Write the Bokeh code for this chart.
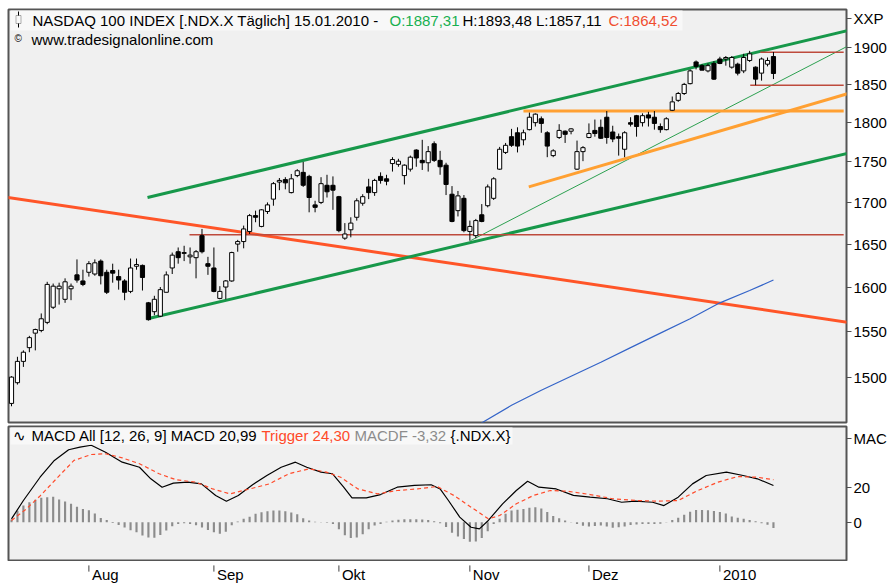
from bokeh.plotting import figure
from bokeh.layouts import column
from bokeh.models import Range1d, FixedTicker, BasicTickFormatter, Label, BoxAnnotation, ColumnDataSource
from bokeh.embed import file_html
from bokeh.resources import INLINE
from bokeh.core.properties import value

# ---------------- data ----------------
opens = [1472, 1494, 1517, 1532, 1548, 1551, 1560, 1577, 1598, 1586,
         1598, 1614, 1607, 1617, 1615, 1630, 1617, 1619, 1612, 1607,
         1595, 1624, 1625, 1582, 1572, 1567, 1594, 1622, 1641, 1639,
         1635, 1634, 1660, 1627, 1622, 1587, 1600, 1607, 1650, 1653,
         1665, 1684, 1671, 1689, 1704, 1725, 1728, 1712, 1733, 1737,
         1732, 1697, 1700, 1721, 1721, 1707, 1657, 1667, 1682, 1699,
         1719, 1712, 1732, 1729, 1748, 1747, 1733, 1741, 1765, 1752,
         1749, 1773, 1752, 1746, 1710, 1690, 1705, 1665, 1660, 1685,
         1696, 1705, 1741, 1762, 1782, 1787, 1778, 1791, 1800, 1805,
         1787, 1758, 1781, 1789, 1789, 1741, 1763, 1781, 1790, 1794,
         1807, 1788, 1782, 1766, 1800, 1809, 1800, 1810, 1807, 1795,
         1791, 1816, 1829, 1838, 1851, 1880, 1875, 1868, 1878, 1884,
         1884, 1873, 1877, 1868, 1882, 1873, 1865, 1877, 1887.31]
highs = [1501, 1522, 1529, 1545, 1553, 1570, 1606, 1604, 1605, 1610,
         1604, 1632, 1620, 1630, 1632, 1632, 1620, 1627, 1620, 1609,
         1633, 1633, 1626, 1583, 1590, 1600, 1618, 1640, 1646, 1648,
         1646, 1643, 1668, 1635, 1646, 1601, 1608, 1641, 1655, 1672,
         1686, 1690, 1692, 1700, 1725, 1730, 1731, 1735, 1741, 1750,
         1734, 1702, 1731, 1734, 1732, 1708, 1675, 1682, 1705, 1710,
         1729, 1729, 1737, 1734, 1756, 1754, 1747, 1758, 1766, 1778,
         1770, 1776, 1764, 1749, 1720, 1714, 1709, 1678, 1680, 1698,
         1722, 1731, 1769, 1774, 1792, 1794, 1791, 1813, 1812, 1808,
         1789, 1766, 1798, 1790, 1793, 1777, 1770, 1799, 1804, 1804,
         1815, 1796, 1786, 1789, 1807, 1810, 1812, 1814, 1815, 1799,
         1807, 1834, 1840, 1852, 1870, 1882, 1877, 1878, 1881, 1887,
         1888, 1888, 1879, 1891, 1895, 1874, 1886, 1886, 1893.48]
lows = [1469, 1492, 1511, 1527, 1529, 1549, 1558, 1575, 1580, 1582,
        1585, 1605, 1601, 1612, 1613, 1603, 1592, 1605, 1597, 1585,
        1593, 1620, 1596, 1562, 1568, 1566, 1594, 1615, 1627, 1630,
        1627, 1610, 1639, 1614, 1594, 1586, 1586, 1606, 1641, 1645,
        1662, 1676, 1670, 1686, 1696, 1715, 1716, 1711, 1731, 1719,
        1688, 1688, 1698, 1706, 1691, 1664, 1655, 1658, 1678, 1696,
        1704, 1708, 1723, 1721, 1738, 1744, 1722, 1738, 1744, 1740,
        1738, 1750, 1734, 1709, 1676, 1683, 1664, 1654, 1657, 1676,
        1694, 1703, 1740, 1760, 1769, 1762, 1771, 1790, 1795, 1787,
        1756, 1756, 1779, 1774, 1785, 1740, 1751, 1780, 1782, 1779,
        1773, 1775, 1758, 1756, 1795, 1782, 1795, 1795, 1791, 1787,
        1790, 1815, 1827, 1836, 1850, 1870, 1869, 1866, 1856, 1877,
        1875, 1871, 1862, 1865, 1880, 1849, 1855, 1874, 1857.11]
closes = [1500, 1517, 1527, 1543, 1552, 1564, 1603, 1601, 1601, 1606,
          1601, 1608, 1603, 1627, 1628, 1613, 1594, 1616, 1608, 1594,
          1622, 1626, 1611, 1563, 1586, 1597, 1614, 1637, 1634, 1640,
          1637, 1641, 1641, 1624, 1595, 1595, 1607, 1640, 1653, 1668,
          1684, 1682, 1691, 1697, 1723, 1727, 1724, 1729, 1739, 1721,
          1706, 1694, 1723, 1713, 1715, 1666, 1662, 1675, 1702, 1707,
          1712, 1727, 1727, 1726, 1753, 1751, 1746, 1756, 1755, 1749,
          1763, 1752, 1744, 1722, 1677, 1708, 1666, 1671, 1678, 1677,
          1719, 1729, 1766, 1771, 1771, 1770, 1787, 1807, 1811, 1799,
          1770, 1764, 1790, 1785, 1792, 1763, 1768, 1786, 1786, 1780,
          1781, 1779, 1780, 1787, 1798, 1795, 1809, 1806, 1799, 1791,
          1805, 1827, 1838, 1850, 1868, 1874, 1869, 1875, 1857, 1878,
          1886, 1886, 1865, 1886, 1891, 1857, 1884, 1882, 1864.52]

# moving average (blue)
sma_x = [78, 84, 89, 94, 99, 104, 109, 114, 119, 124, 128]
sma_v = [1448, 1470, 1486, 1501, 1516, 1532, 1548, 1564, 1582, 1596, 1608]

# drawn trend lines: (x index pairs, value pairs)
upper_ch_x = [22.85, 140.6]
upper_ch_v = [1706, 1923]
lower_ch_x = [22.85, 140.6]
lower_ch_v = [1564, 1761]
thin_green_x = [77.1, 140.6]
thin_green_v = [1654, 1902]
red_down_x = [-0.6, 140.6]
red_down_v = [1706, 1560]
orange_up_x = [86.9, 140.6]
orange_up_v = [1719, 1838]
hline_levels = [1661, 1815, 1893, 1849]
hline_start = [29.9, 86.0, 125.8, 124.1]
hline_end = [139.8, 139.8, 139.8, 139.8]

# MACD
macd_x = [0, 2, 4.8, 7.2, 9.6, 11.5, 13.4, 15.8, 18.6, 21.5, 23.4, 25.3, 27.2, 29.6, 31.9,
          34.3, 36.1, 38.1, 40.5, 42.9, 45.3, 47.7, 49.6, 52, 53.9, 55.8, 57.2, 59.6, 62,
          64.8, 67.7, 70.5, 72, 73.4, 75.3, 77.2, 78.6, 80.1, 82.5, 84.8, 86.7, 88.6, 91.5,
          94.4, 97.2, 100.1, 102.5, 104.8, 107.7, 109.6, 112, 114.4, 116.7, 120.1, 122.9,
          125.3, 128]
macd_v = [1.9, 12.4, 25.7, 35.3, 41.4, 42.9, 44.0, 40.0, 34.3, 31.4, 24.8, 20.0, 22.3, 22.9, 21.9,
          15.3, 12.0, 15.3, 21.4, 26.7, 31.4, 34.3, 31.4, 28.6, 27.7, 20.0, 13.9, 13.9, 15.8,
          20.0, 21.0, 21.4, 19.0, 12.4, 2.9, -2.9, -3.8, 1.0, 10.5, 18.1, 23.4, 20.0, 19.0,
          15.3, 14.3, 13.4, 11.4, 12.0, 11.4, 9.5, 14.3, 21.9, 26.7, 28.6, 26.7,
          24.8, 20.99]
trig_x = [0, 2.5, 4.8, 7.7, 10.5, 13.4, 15.8, 18.6, 21.5, 24.8, 27.7, 31, 33.8, 36.7, 40,
          43.3, 46.6, 50, 52.9, 55.3, 58.2, 61.5, 64.8, 68.2, 71.5, 74.3, 77.2, 80.1, 82,
          84.8, 87.7, 90.5, 93.4, 97.2, 101, 104.8, 108.6, 112, 115.3, 118.7, 122, 125.3, 128]
trig_v = [1.0, 7.6, 15.0, 25.4, 35.3, 38.7, 39.1, 36.8, 33.4, 27.7, 24.2, 22.9, 19.0, 16.2, 19.0,
          21.9, 27.7, 30.5, 28.6, 25.7, 19.0, 16.2, 18.1, 19.0, 20.4, 15.3, 8.6, 1.9, 3.8,
          10.5, 15.3, 18.1, 17.7, 15.8, 13.4, 12.4, 12.0, 12.4, 18.1, 22.9, 26.1, 25.7, 24.30]
macdf = [1.5, 6.5, 9.5, 11.4, 12.8, 13.9, 14.3, 14.6, 13.0, 11.8,
         10.5, 8.8, 7.6, 6.8, 5.0, 2.4, 1.2, -0.4, -1.6, -3.0,
         -4.6, -5.7, -7.6, -8.7, -8.9, -7.3, -4.8, -2.3, -1.1, -0.6,
         -1.1, -1.8, -3.0, -4.4, -5.8, -6.6, -5.5, -1.8, 0.4, 1.9,
         3.1, 4.8, 5.7, 6.3, 6.7, 6.7, 6.2, 5.6, 4.6, 2.3,
         1.0, 0.2, -0.2, -0.3, -1.0, -4.0, -7.4, -9.0, -8.7, -6.9,
         -4.0, -1.9, -1.0, 0.2, 1.0, 1.4, 1.7, 1.7, 1.7, 1.6,
         1.2, 0.6, -0.6, -2.8, -6.0, -8.2, -9.6, -11.2, -11.0, -9.0,
         -5.2, -1.0, 1.9, 4.8, 6.7, 7.1, 7.6, 8.3, 8.6, 7.8,
         5.8, 3.6, 2.2, 1.0, -0.2, -1.1, -2.0, -2.5, -2.2, -1.9,
         -2.4, -3.2, -2.9, -2.4, -1.6, -1.3, -1.0, -1.0, -1.0, -0.9,
         -0.2, 1.2, 2.5, 4.2, 6.0, 6.9, 7.0, 6.8, 6.4, 5.8,
         4.9, 3.2, 2.5, 1.9, 1.2, 0.6, -0.6, -1.4, -3.32]

price_ticks = [1500, 1550, 1600, 1650, 1700, 1750, 1800, 1850, 1900]
macd_ticks = [0, 20]
month_pos = [13, 34, 55, 77, 97, 119]
month_labels = ["Aug", "Sep", "Okt", "Nov", "Dez", "2010"]
# axis captions shown at the top of each value axis
price_caption = ("XXP", 1939)
macd_caption = ("MAC", 48)

# ---------------- styling ----------------
FONT = "Liberation Sans"
FS = "15px"
W = 889
RB = 43          # right border (axis area)
LB = 8           # left border
BG = "#f0f0f0"
OUT = "#555555"
GREEN = "#17984a"
RED = "#ff5528"
ORANGE = "#ffa032"
DARKRED = "#be4a3c"
BLUE = "#3464c8"
STRIP = "#f8f8f8"

n = len(closes)
idx = list(range(n))
src = ColumnDataSource(dict(
    x=idx, o=opens, h=highs, l=lows, c=closes,
    top=[max(o, c) for o, c in zip(opens, closes)],
    bot=[min(o, c) for o, c in zip(opens, closes)],
    fill=["#ffffff" if c >= o else "#000000" for o, c in zip(opens, closes)],
))

x_range = Range1d(-0.504, 140.27)


def style_right_axis(fig, ticks, caption):
    ax = fig.yaxis[0]
    ax.ticker = FixedTicker(ticks=ticks + [caption[1]])
    ax.formatter = BasicTickFormatter(use_scientific=False)
    ax.major_label_overrides = {caption[1]: caption[0]}
    ax.axis_line_color = None
    ax.major_tick_in = 0
    ax.major_tick_out = 5
    ax.major_tick_line_color = "#505050"
    ax.minor_tick_line_color = None
    ax.major_label_standoff = 2
    ax.major_label_text_font = FONT
    ax.major_label_text_font_size = FS
    ax.major_label_text_color = "#000000"


def screen_label(fig, txt, x, y, color="#000000", size=FS):
    fig.add_layout(Label(x=x, y=y, x_units="screen", y_units="screen", text=txt,
                         text_font=FONT, text_font_size=size, text_color=color,
                         text_baseline="middle", text_align="left"))


def screen_box(fig, l, r, b, t, fill, line=None):
    fig.add_layout(BoxAnnotation(left=l, right=r, bottom=b, top=t,
                                 left_units="screen", right_units="screen",
                                 top_units="screen", bottom_units="screen",
                                 fill_color=fill, fill_alpha=1,
                                 line_color=line, line_width=1))


# ---------------- main price panel ----------------
p = figure(width=W, height=424, x_range=x_range, y_range=Range1d(1452, 1952),
           y_axis_type="log", x_axis_location=None, y_axis_location="right",
           output_backend="svg", toolbar_location=None,
           min_border_left=LB, min_border_right=RB, min_border_top=9, min_border_bottom=2,
           background_fill_color=BG, border_fill_color="#ffffff",
           outline_line_color=OUT, outline_line_width=2)
p.grid.visible = False
style_right_axis(p, price_ticks, price_caption)

# header strip (frame-relative screen units, y up from frame bottom)
screen_box(p, 2, 674, 392, 412, STRIP)

# trend lines
p.line(red_down_x, red_down_v, line_color=RED, line_width=3)
p.line(upper_ch_x, upper_ch_v, line_color=GREEN, line_width=3)
p.line(lower_ch_x, lower_ch_v, line_color=GREEN, line_width=3)
p.line(thin_green_x, thin_green_v, line_color="#2ca050", line_width=1)
p.line(orange_up_x, orange_up_v, line_color=ORANGE, line_width=3)
p.segment(x0=hline_start, y0=hline_levels, x1=hline_end, y1=hline_levels,
          line_color=[DARKRED, ORANGE, DARKRED, DARKRED], line_width=[1.5, 3, 1.5, 1.5])
p.line(sma_x, sma_v, line_color=BLUE, line_width=1.2)

# candles
p.segment(x0="x", y0="l", x1="x", y1="h", source=src, line_color="#000000", line_width=1)
p.vbar(x="x", width=0.7, top="top", bottom="bot", source=src,
       fill_color="fill", line_color="#000000", line_width=1)

# candle icon
screen_box(p, 9.5, 10.5, 395, 411, "#000000")
screen_box(p, 7.5, 12.5, 399, 407, STRIP, "#000000")

hy = 402.5
screen_label(p, "NASDAQ 100 INDEX [.NDX.X  Täglich] 15.01.2010 -", 24, hy)
screen_label(p, "O:1887,31", 381, hy, "#18b050")
screen_label(p, "H:1893,48 L:1857,11", 454, hy)
screen_label(p, "C:1864,52", 600, hy, "#f04e30")
screen_label(p, "©", 6, 384, size="10px")
screen_label(p, "www.tradesignalonline.com", 23, 383)

# ---------------- MACD panel ----------------
p2 = figure(width=W, height=137, x_range=x_range, y_range=Range1d(-21.9, 54.7),
            x_axis_location=None, y_axis_location="right",
            output_backend="svg", toolbar_location=None,
            min_border_left=LB, min_border_right=RB, min_border_top=2, min_border_bottom=1,
            background_fill_color=BG, border_fill_color="#ffffff",
            outline_line_color=OUT, outline_line_width=2)
p2.grid.visible = False
style_right_axis(p2, macd_ticks, macd_caption)

screen_box(p2, 2, 504, 116, 133, STRIP)
p2.vbar(x=idx, width=0.36, top=macdf, bottom=0, fill_color="#8c8c8c", line_color=None)
p2.line(macd_x, macd_v, line_color="#000000", line_width=1.2)
p2.line(trig_x, trig_v, line_color="#ff4a2a", line_width=1.2, line_dash="4 3")

my = 125
screen_label(p2, "∿", 4, my)
screen_label(p2, "MACD All [12, 26, 9] MACD 20,99", 23, my)
screen_label(p2, "Trigger 24,30", 253, my, "#ff4a2a")
screen_label(p2, "MACDF -3,32", 346, my, "#8c8c8c")
screen_label(p2, "{.NDX.X}", 442, my)

# ---------------- month axis strip ----------------
p3 = figure(width=W, height=23, x_range=x_range, y_range=Range1d(0, 1),
            x_axis_location=None, y_axis_location=None,
            output_backend="svg", toolbar_location=None,
            min_border_left=LB, min_border_right=RB, min_border_top=0, min_border_bottom=0,
            background_fill_color="#ffffff", border_fill_color="#ffffff",
            outline_line_color=None)
p3.grid.visible = False
p3.segment(x0=month_pos, y0=[0.83] * len(month_pos), x1=month_pos, y1=[0.56] * len(month_pos),
           line_color="#404040", line_width=1)
p3.text(x=month_pos, y=[0.42] * len(month_pos), text=month_labels,
        text_font=value(FONT), text_font_size=value(FS), text_color="#000000",
        text_baseline="middle", text_align="left", x_offset=3)

layout = column(p, p2, p3)
open("out.html", "w").write(file_html(layout, INLINE))
